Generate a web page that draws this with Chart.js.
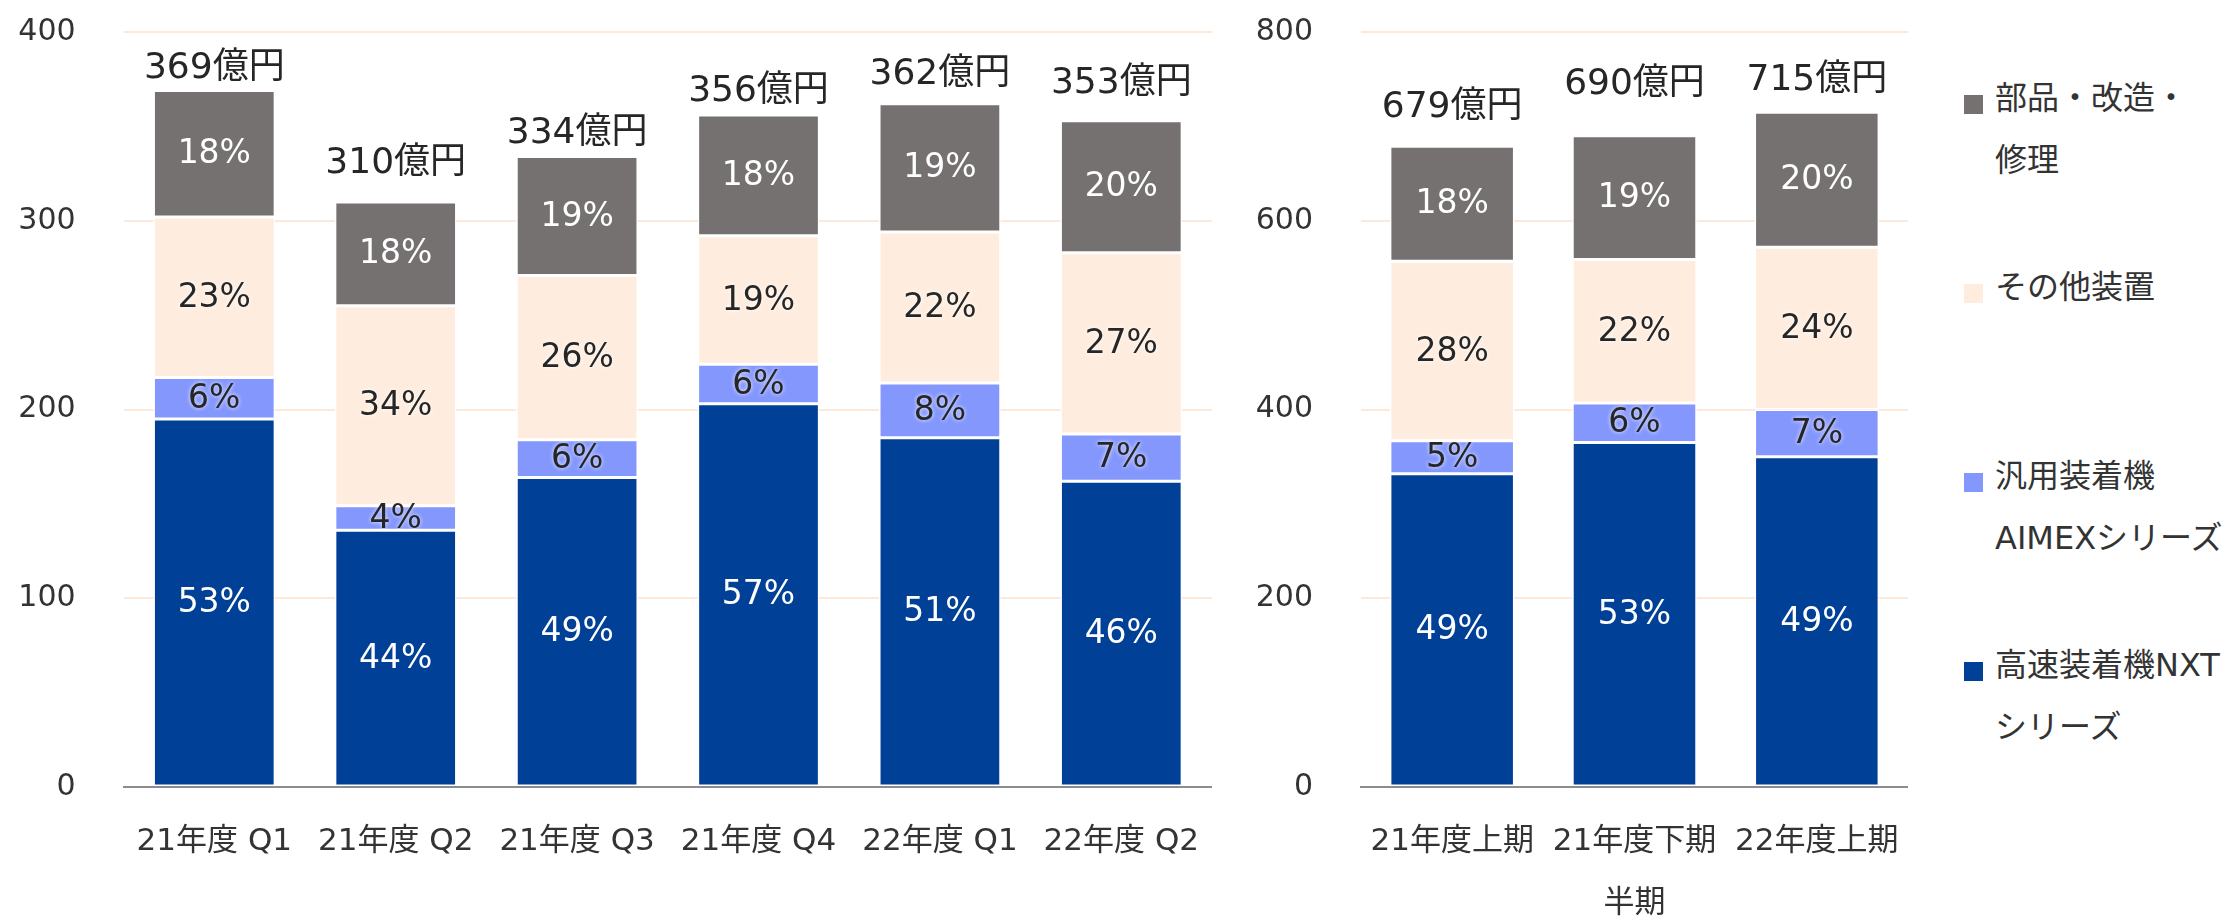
<!DOCTYPE html>
<html>
<head>
<meta charset="utf-8">
<script src="https://cdn.jsdelivr.net/npm/chart.js@4.4.1/dist/chart.umd.min.js"></script>
<style>
    html, body { margin: 0; padding: 0; background: #fff; overflow: hidden; }
    body { width: 2236px; height: 919px; position: relative; font-family: 'DejaVu Sans', 'Noto Sans CJK JP', sans-serif; }
    #quarterChart { position: absolute; left: 0; top: 0; }
    #halfChart { position: absolute; left: 1240px; top: 0; }
    #legend { position: absolute; left: 1964px; top: 67px; }
    .lg-item { position: relative; height: 189px; }
    .lg-box { position: absolute; left: 0; top: 28px; width: 19px; height: 19px; }
    .lg-text { position: absolute; left: 31px; top: 0; font-size: 32px; line-height: 62px; color: #333; white-space: nowrap; }
</style>
</head>
<body>
<canvas id="quarterChart" width="1212" height="919"></canvas>
<canvas id="halfChart" width="668" height="919"></canvas>
<div id="legend"></div>
<script>
// --- Data: quarterly (left chart) ---
const quarterLabels = ['21年度 Q1', '21年度 Q2', '21年度 Q3', '21年度 Q4', '22年度 Q1', '22年度 Q2'];
const quarterNxt   = [195, 136, 164, 203, 185, 162];
const quarterAimex = [22, 13, 20, 21, 29, 25];
const quarterOther = [85, 106, 87, 68, 80, 96];
const quarterParts = [67, 55, 63, 64, 68, 70];
const quarterNxtPct   = [53, 44, 49, 57, 51, 46];
const quarterAimexPct = [6, 4, 6, 6, 8, 7];
const quarterOtherPct = [23, 34, 26, 19, 22, 27];
const quarterPartsPct = [18, 18, 19, 18, 19, 20];
const quarterTotals = [369, 310, 334, 356, 362, 353];
const quarterTicks = [0, 100, 200, 300, 400];

// --- Data: half year (right chart) ---
const halfLabels = ['21年度上期', '21年度下期', '22年度上期'];
const halfNxt   = [332, 365, 350];
const halfAimex = [35, 42, 50];
const halfOther = [190, 152, 172];
const halfParts = [122, 131, 143];
const halfNxtPct   = [49, 53, 49];
const halfAimexPct = [5, 6, 7];
const halfOtherPct = [28, 22, 24];
const halfPartsPct = [18, 19, 20];
const halfTotals = [679, 690, 715];
const halfTicks = [0, 200, 400, 600, 800];
const halfAxisTitle = '半期';

// --- Series (bottom to top of the stack) ---
const seriesNames  = ['高速装着機NXTシリーズ', '汎用装着機AIMEXシリーズ', 'その他装置', '部品・改造・修理'];
const seriesLegendLines = [['高速装着機NXT', 'シリーズ'], ['汎用装着機', 'AIMEXシリーズ'], ['その他装置'], ['部品・改造・', '修理']];
const seriesColors = ['#004097', '#8497fd', '#feeddf', '#767171'];
const seriesTextColors = ['#ffffff', '#262626', '#262626', '#ffffff'];

// how far above the bar top each total label sits (px)
const quarterLabelLift = [22, 38, 23, 23, 29, 37];
const halfLabelLift = [39, 51, 32];

const FONT = "'DejaVu Sans', 'Noto Sans CJK JP', sans-serif";
const TEXT = '#333333';
const GRID = '#fde9d9';
const CLEAR = 'rgba(0,0,0,0)';

// draws % inside each segment and the total above each bar
const segmentLabels = {
    id: 'segmentLabels',
    afterDatasetsDraw(chart, args, opts) {
        const ctx = chart.ctx;
        ctx.save();
        ctx.textAlign = 'center';
        ctx.textBaseline = 'middle';
        ctx.font = '33px ' + FONT;
        chart.data.datasets.forEach((ds, di) => {
            const meta = chart.getDatasetMeta(di);
            meta.data.forEach((bar, i) => {
                const p = bar.getProps(['x', 'y', 'base'], true);
                ctx.fillStyle = ds.labelColor;
                if (ds.labelColor !== '#ffffff') {
                    ctx.shadowColor = 'rgba(255,255,255,0.9)';
                    ctx.shadowBlur = 4;
                } else {
                    ctx.shadowColor = 'transparent';
                    ctx.shadowBlur = 0;
                }
                ctx.fillText(ds.pct[i] + '%', p.x, (p.y + p.base) / 2 + 1);
            });
        });
        ctx.shadowColor = 'transparent';
        ctx.shadowBlur = 0;
        ctx.font = '36px ' + FONT;
        ctx.fillStyle = '#262626';
        const topMeta = chart.getDatasetMeta(chart.data.datasets.length - 1);
        topMeta.data.forEach((bar, i) => {
            ctx.fillText(opts.totals[i] + '億円', bar.x, bar.y - opts.lift[i]);
        });
        ctx.restore();
    }
};

function makeDatasets(values, pcts, barPct) {
    return values.map((data, k) => ({
        label: seriesNames[k],
        data,
        pct: pcts[k],
        labelColor: seriesTextColors[k],
        backgroundColor: seriesColors[k],
        borderColor: '#ffffff',
        borderWidth: 1.5,
        borderSkipped: false,
        barPercentage: barPct,
        categoryPercentage: 1
    }));
}

function makeChart(id, labels, datasets, ticks, totals, lift, yWidth, title) {
    const ctx = document.getElementById(id).getContext('2d');
    return new Chart(ctx, {
        type: 'bar',
        data: { labels, datasets },
        plugins: [segmentLabels],
        options: {
            responsive: false,
            animation: false,
            devicePixelRatio: 1,
            layout: { padding: { top: 32, left: 0, right: 0, bottom: 0 } },
            plugins: {
                legend: { display: false },
                tooltip: { enabled: false },
                segmentLabels: { totals, lift }
            },
            scales: {
                x: {
                    stacked: true,
                    grid: {
                        display: true,
                        drawOnChartArea: false,
                        drawTicks: true,
                        tickLength: 36,
                        tickColor: CLEAR,
                        color: CLEAR
                    },
                    border: { display: true, color: '#8c8c8c', width: 2 },
                    ticks: {
                        padding: 0,
                        color: TEXT,
                        maxRotation: 0,
                        autoSkip: false,
                        font: { size: 31, family: FONT }
                    },
                    title: {
                        display: !!title,
                        text: title || '',
                        color: TEXT,
                        padding: { top: 0, bottom: 0 },
                        font: { size: 31, family: FONT, lineHeight: 1 }
                    },
                    afterFit: s => {
                        s.height = 132;
                        s.paddingLeft = 0;
                        s.paddingRight = 0;
                    }
                },
                y: {
                    stacked: true,
                    min: ticks[0],
                    max: ticks[ticks.length - 1],
                    afterBuildTicks: s => { s.ticks = ticks.map(v => ({ value: v })); },
                    grid: {
                        drawTicks: true,
                        tickLength: 48,
                        tickColor: CLEAR,
                        lineWidth: 2,
                        color: c => (c.tick && c.tick.value === 0) ? CLEAR : GRID
                    },
                    border: { display: false },
                    ticks: {
                        padding: 0,
                        color: TEXT,
                        font: { size: 30, family: FONT }
                    },
                    afterFit: s => { s.width = yWidth; }
                }
            }
        }
    });
}

makeChart('quarterChart', quarterLabels,
    makeDatasets([quarterNxt, quarterAimex, quarterOther, quarterParts],
                 [quarterNxtPct, quarterAimexPct, quarterOtherPct, quarterPartsPct], 0.671),
    quarterTicks, quarterTotals, quarterLabelLift, 123.6, null);

makeChart('halfChart', halfLabels,
    makeDatasets([halfNxt, halfAimex, halfOther, halfParts],
                 [halfNxtPct, halfAimexPct, halfOtherPct, halfPartsPct], 0.683),
    halfTicks, halfTotals, halfLabelLift, 121, halfAxisTitle);

// --- Legend (top entry is the top of the stack) ---
const legendEl = document.getElementById('legend');
for (let k = seriesNames.length - 1; k >= 0; k--) {
    const item = document.createElement('div');
    item.className = 'lg-item';
    item.innerHTML = `
        <div class="lg-box" style="background:${seriesColors[k]}"></div>
        <div class="lg-text">${seriesLegendLines[k].join('<br>')}</div>
    `;
    legendEl.appendChild(item);
}
</script>
</body>
</html>
